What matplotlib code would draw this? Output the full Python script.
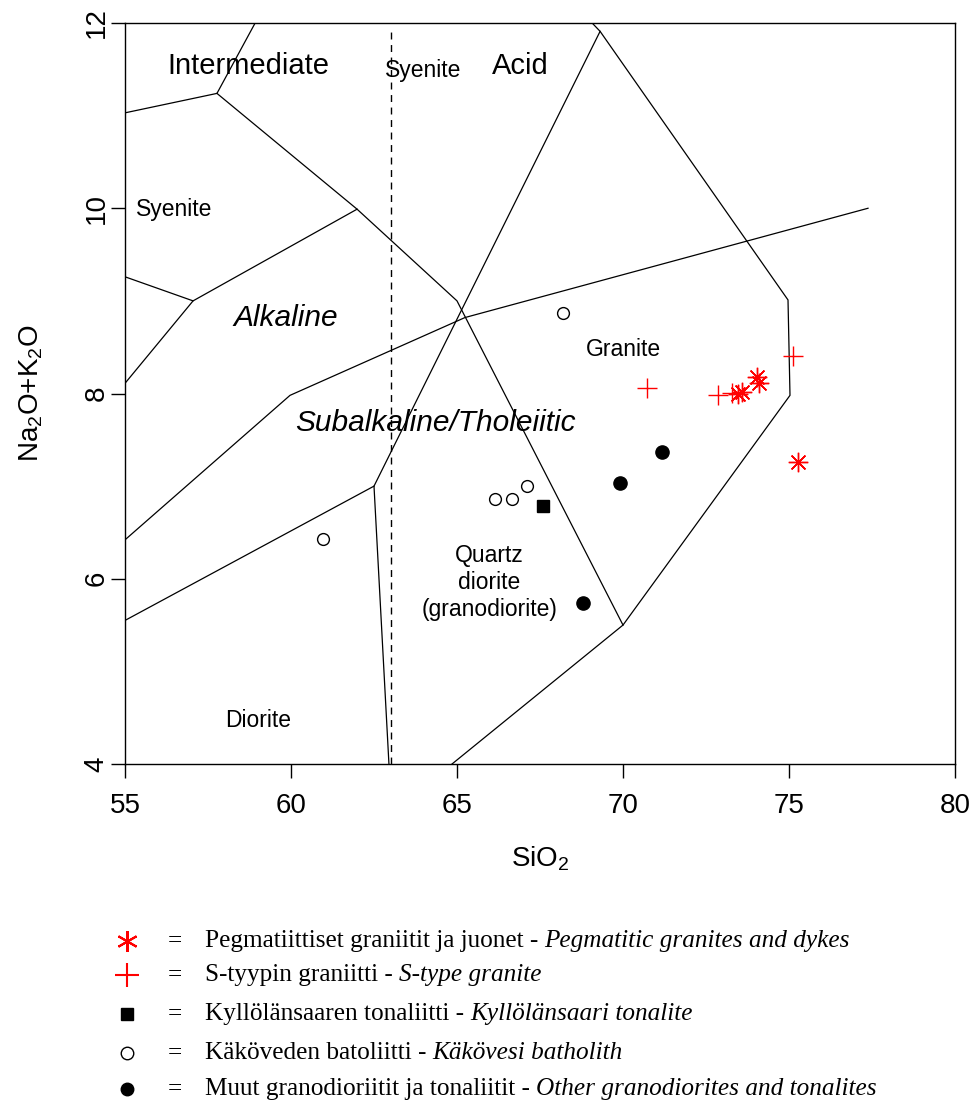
import numpy as np
import matplotlib
matplotlib.use('Agg')
import matplotlib.pyplot as plt

plt.rcParams['font.family'] = 'Liberation Sans'
plt.rcParams['mathtext.fontset'] = 'custom'
plt.rcParams['mathtext.rm'] = 'Liberation Sans'
plt.rcParams['mathtext.it'] = 'Liberation Sans:italic'

# sample groups (SiO2, Na2O+K2O)
peg_x = [73.47, 73.58, 74.03, 74.11, 75.28]
peg_y = [8.00, 8.02, 8.18, 8.11, 7.26]
styp_x = [70.71, 72.87, 73.27, 75.11]
styp_y = [8.06, 7.98, 8.01, 8.40]
kyl_x = [67.59]
kyl_y = [6.79]
kak_x = [68.19, 60.96, 66.14, 66.66, 67.11]
kak_y = [8.87, 6.43, 6.86, 6.86, 7.00]
muut_x = [68.80, 71.17, 69.91]
muut_y = [5.74, 7.37, 7.03]

# field boundaries of the plutonic TAS diagram
b1_x = [55.0, 57.77, 58.92]
b1_y = [11.03, 11.24, 12.0]
b2_x = [57.77, 61.99, 65.0, 70.0]
b2_y = [11.24, 9.99, 9.0, 5.5]
b3_x = [55.0, 57.05, 61.99]
b3_y = [9.26, 9.0, 9.99]
b4_x = [57.05, 55.0]
b4_y = [9.0, 8.11]
b5_x = [69.07, 69.31, 74.97, 75.03, 70.0, 64.85]
b5_y = [12.0, 11.91, 9.01, 7.98, 5.5, 4.0]
b6_x = [69.31, 62.5, 62.95]
b6_y = [11.91, 7.0, 4.0]
b7_x = [55.0, 62.5]
b7_y = [5.55, 7.0]
b8_x = [55.0, 59.97, 65.24, 77.38]
b8_y = [6.42, 7.98, 8.82, 10.0]
bounds = [(b1_x, b1_y), (b2_x, b2_y), (b3_x, b3_y), (b4_x, b4_y),
          (b5_x, b5_y), (b6_x, b6_y), (b7_x, b7_y), (b8_x, b8_y)]

leg_fi = ['Pegmatiittiset graniitit ja juonet - ', 'S-tyypin graniitti - ',
          'Kyllölänsaaren tonaliitti - ', 'Käköveden batoliitti - ',
          'Muut granodioriitit ja tonaliitit - ']
leg_en = ['Pegmatitic granites and dykes', 'S-type granite', 'Kyllölänsaari tonalite',
          'Käkövesi batholith', 'Other granodiorites and tonalites']

fig = plt.figure(figsize=(9.74, 11.04), dpi=100)
ax = fig.add_axes([125/974., 1-764/1104., 830/974., 741/1104.])

for bx, by in bounds:
    ax.plot(bx, by, color='black', lw=0.9)
ax.plot([63, 63], [4, 11.95], color='black', lw=1.0, ls=(0, (5, 4)))

ax.text(58.73, 11.54, 'Intermediate', fontsize=21, ha='center', va='center')
ax.text(66.9, 11.54, 'Acid', fontsize=21, ha='center', va='center')
ax.text(63.99, 11.49, 'Syenite', fontsize=16.5, ha='center', va='center')
ax.text(56.48, 9.99, 'Syenite', fontsize=16.5, ha='center', va='center')
ax.text(59.85, 8.82, 'Alkaline', fontsize=21.5, style='italic', ha='center', va='center')
ax.text(70.0, 8.47, 'Granite', fontsize=16.5, ha='center', va='center')
ax.text(64.34, 7.68, 'Subalkaline/Tholeiitic', fontsize=21.5, style='italic', ha='center', va='center')
ax.text(65.98, 5.96, 'Quartz\ndiorite\n(granodiorite)', fontsize=16.5, ha='center', va='center',
        linespacing=1.2)
ax.text(59.0, 4.47, 'Diorite', fontsize=16.5, ha='center', va='center')

ax.plot(kak_x, kak_y, 'o', mfc='white', mec='black', ms=8.5, mew=1.0, ls='none')
ax.plot(kyl_x, kyl_y, 's', color='black', ms=9, ls='none')
ax.plot(muut_x, muut_y, 'o', color='black', ms=9.5, ls='none')
ax.plot(styp_x, styp_y, '+', color='red', ms=15, mew=1.0, ls='none')
ax.plot(peg_x, peg_y, marker=(8, 2, 0), color='red', ms=14, mew=1.0, ls='none')

ax.set_xlim(55, 80)
ax.set_ylim(4, 12)
ax.set_xticks([55, 60, 65, 70, 75, 80])
ax.set_yticks([4, 6, 8, 10, 12])
ax.set_yticklabels(['4', '6', '8', '10', '12'], rotation=90, va='center')
ax.tick_params(axis='both', labelsize=20, length=10, width=1.0, direction='out')
ax.tick_params(axis='x', pad=11)
ax.tick_params(axis='y', pad=1)
for s in ax.spines.values():
    s.set_linewidth(1.0)
ax.set_xlabel('SiO$_2$', fontsize=20, labelpad=18)
ax.set_ylabel('Na$_2$O+K$_2$O', fontsize=20, labelpad=28)

# legend below the plot
lax = fig.add_axes([0, 0, 1, 1])
lax.set_xlim(0, 974)
lax.set_ylim(1104, 0)
lax.axis('off')
rows = [941, 975, 1014, 1053, 1089]
lax.plot([127], [rows[0]], marker=(6, 2, 0), color='red', ms=15, mew=1.5, ls='none')
lax.plot([127], [rows[1]], '+', color='red', ms=17, mew=1.5, ls='none')
lax.plot([127], [rows[2]], 's', color='black', ms=8.5, ls='none')
lax.plot([127], [rows[3]], 'o', mfc='white', mec='black', ms=9, mew=1.0, ls='none')
lax.plot([127], [rows[4]], 'o', color='black', ms=9, ls='none')

serif = 'Liberation Serif'
fs_leg = 18.2
fig.canvas.draw()
r = fig.canvas.get_renderer()
for i in range(5):
    lax.text(175, rows[i], '=', fontsize=fs_leg, family=serif, ha='center', va='center')
    t = lax.text(205, rows[i], leg_fi[i], fontsize=fs_leg, family=serif, ha='left', va='center')
    bb = t.get_window_extent(renderer=r)
    x1 = bb.x1 * 974 / fig.bbox.width
    lax.text(x1, rows[i], leg_en[i], fontsize=fs_leg, family=serif, style='italic',
             ha='left', va='center')

fig.savefig('out.png', dpi=100)
